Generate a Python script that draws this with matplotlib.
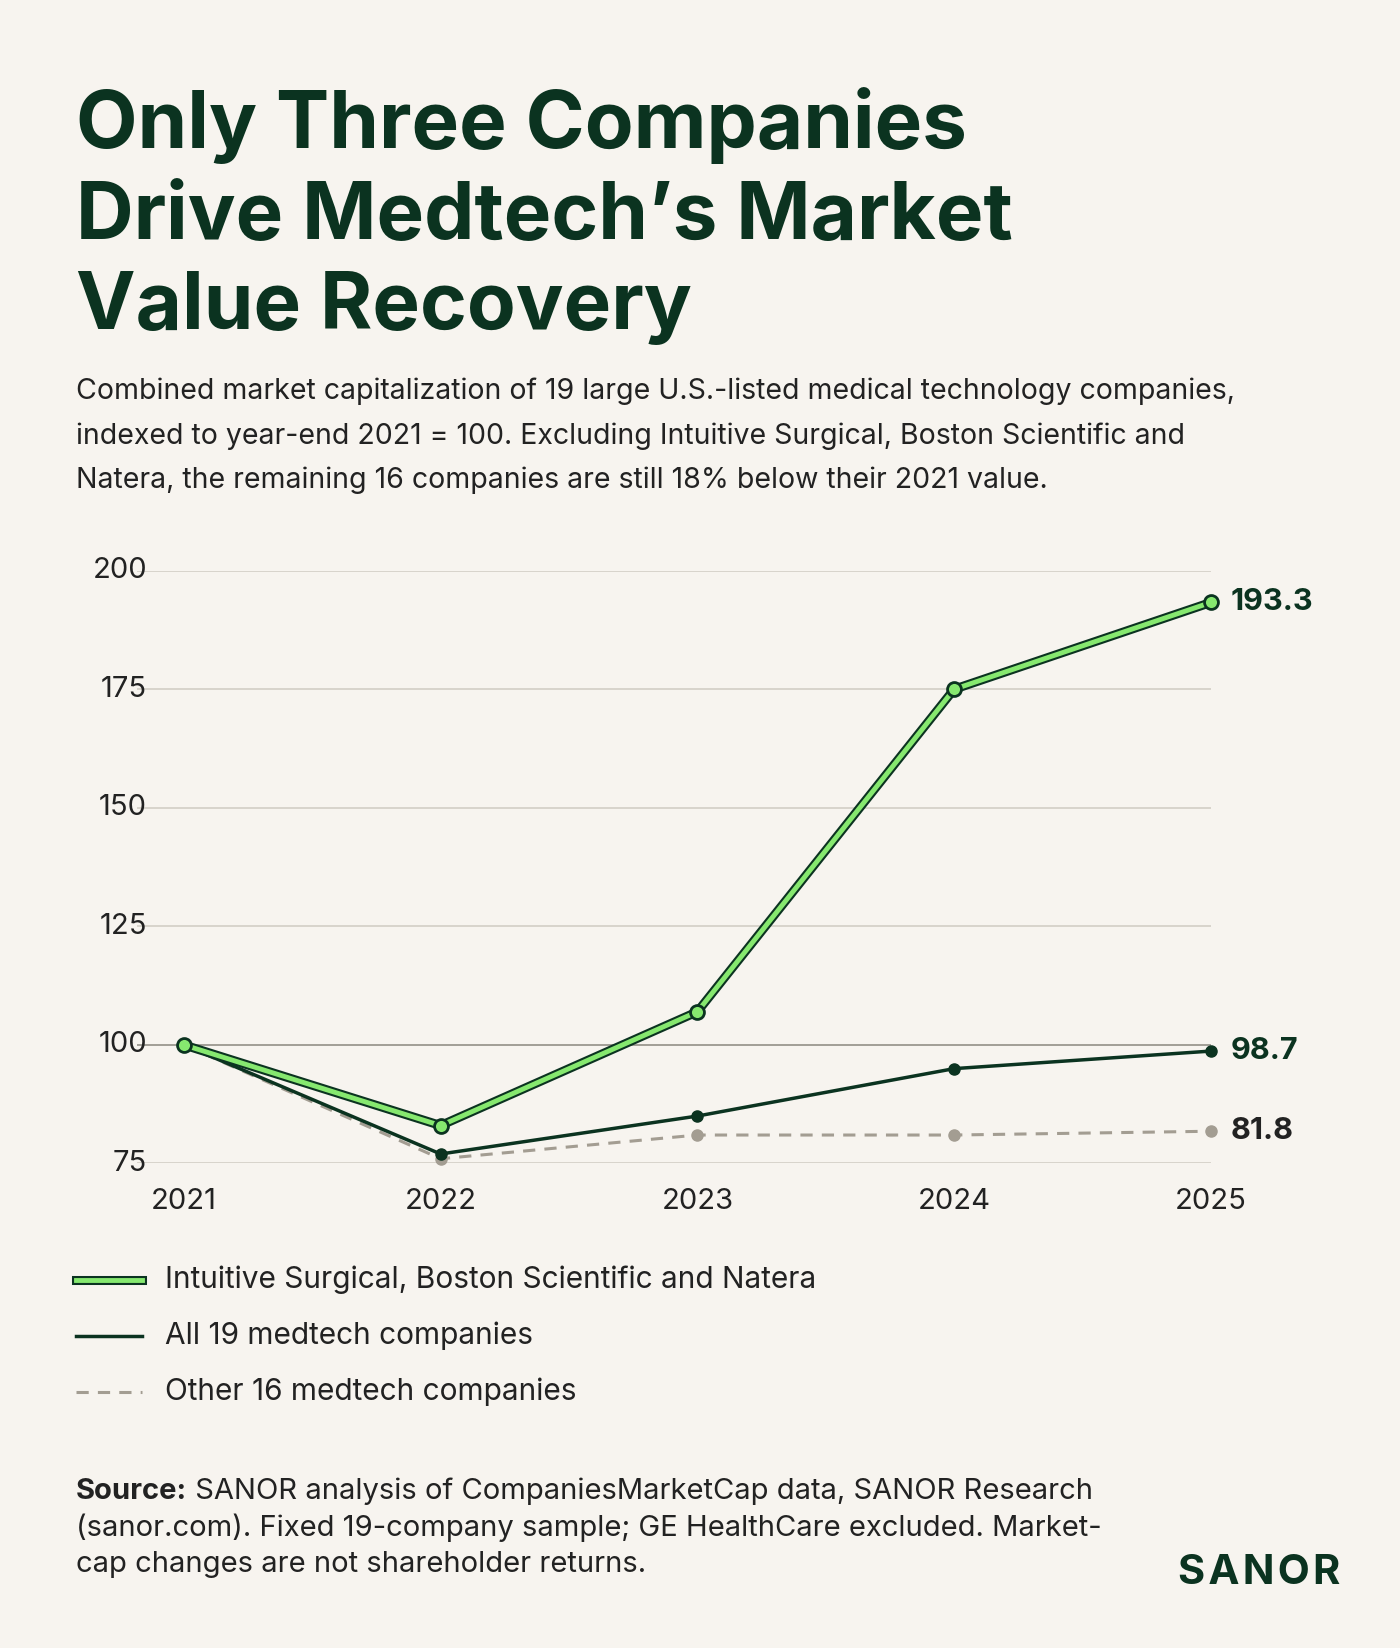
import matplotlib
matplotlib.use("Agg")
import matplotlib.pyplot as plt
from matplotlib.lines import Line2D

years = [2021, 2022, 2023, 2024, 2025]
top3 = [100, 83, 107, 175, 193.3]
all19 = [100, 77, 85, 95, 98.7]
other16 = [100, 76, 81, 81, 81.8]
yticks = [75, 100, 125, 150, 175, 200]

BG = "#F7F4EF"; DARK = "#0B3320"; GREEN = "#86E86F"; GRAY = "#A39D92"; TXT = "#222222"
plt.rcParams['font.family'] = ['Inter', 'DejaVu Sans']

W, H = 1332, 1568
fig = plt.figure(figsize=(14, 16.48), dpi=100, facecolor=BG)
fx = lambda x: x / W
fy = lambda y: 1 - y / H

for i, t in enumerate(["Only Three Companies", "Drive Medtech\u2019s Market", "Value Recovery"]):
    fig.text(fx(72), fy(141 + 86 * i), t, fontsize=57.5, fontweight='bold', color=DARK, va='baseline')
sub = ["Combined market capitalization of 19 large U.S.-listed medical technology companies,",
       "indexed to year-end 2021 = 100. Excluding Intuitive Surgical, Boston Scientific and",
       "Natera, the remaining 16 companies are still 18% below their 2021 value."]
for i, t in enumerate(sub):
    fig.text(fx(72), fy(380 + 42 * i), t, fontsize=20.5, color=TXT, va='baseline')

x0 = 2021 - 45 / 244.25
ax = fig.add_axes([fx(130), fy(1107), fx(1152) - fx(130), fy(543) - fy(1107)])
ax.set_facecolor(BG)
ax.set_xlim(x0, 2025); ax.set_ylim(75, 200)
for s in ax.spines.values(): s.set_visible(False)
ax.set_xticks([]); ax.set_yticks([])
for v in yticks:
    ax.axhline(v, color="#9A978F" if v == 100 else "#CFCBC2", lw=1.3 if v == 100 else 1.1, zorder=1)
    ax.text(x0 + 0.04, v, str(v), ha='right', va='center', fontsize=21, color=TXT)
for y in years:
    ax.text(y, 67, str(y), ha='center', va='center', fontsize=21, color=TXT, clip_on=False)

ax.plot(years, other16, color=GRAY, lw=2.2, ls=(0, (4, 3)), zorder=3, clip_on=False)
ax.plot(years, other16, 'o', color=GRAY, ms=8, zorder=3, clip_on=False)
ax.plot(years, all19, color=DARK, lw=2.5, zorder=4, clip_on=False)
ax.plot(years, all19, 'o', color=DARK, ms=8, zorder=4, clip_on=False)
ax.plot(years, top3, color=DARK, lw=6.5, zorder=5, clip_on=False, solid_capstyle='round')
ax.plot(years, top3, color=GREEN, lw=3.5, zorder=6, clip_on=False, solid_capstyle='round')
ax.plot(years, top3, 'o', mfc=GREEN, mec=DARK, mew=2, ms=10, zorder=7, clip_on=False)

for v, c in [(top3[-1], DARK), (all19[-1], DARK), (other16[-1], TXT)]:
    ax.annotate(f"{v}", (2025, v), xytext=(14, 0), textcoords='offset points', ha='left', va='center',
                fontsize=22, fontweight='bold', color=c, annotation_clip=False)

leg = [("Intuitive Surgical, Boston Scientific and Natera", 1218),
       ("All 19 medtech companies", 1271), ("Other 16 medtech companies", 1324)]
for i, (t, y) in enumerate(leg):
    xs = [fx(72), fx(135)]; ys = [fy(y), fy(y)]
    if i == 0:
        fig.add_artist(Line2D(xs, ys, color=DARK, lw=6.5))
        fig.add_artist(Line2D(xs, ys, color=GREEN, lw=3.5))
    elif i == 1:
        fig.add_artist(Line2D(xs, ys, color=DARK, lw=2.5))
    else:
        fig.add_artist(Line2D(xs, ys, color=GRAY, lw=2.2, ls=(0, (4, 3))))
    fig.text(fx(157), fy(y), t, fontsize=21.5, color=TXT, va='center')

SF = 21
st = fig.text(fx(72), fy(1426), "Source:", fontsize=SF, fontweight='bold', color=TXT, va='baseline')
ax.annotate(" SANOR analysis of CompaniesMarketCap data, SANOR Research", xy=(1, 0), xycoords=st,
            va='bottom', ha='left', fontsize=SF, color=TXT, annotation_clip=False)
fig.text(fx(72), fy(1461), "(sanor.com). Fixed 19-company sample; GE HealthCare excluded. Market-",
         fontsize=SF, color=TXT, va='baseline')
fig.text(fx(72), fy(1496), "cap changes are not shareholder returns.", fontsize=SF, color=TXT, va='baseline')
fig.text(fx(1275), fy(1507), "S A N O R".replace(" ", "\u200a"), fontsize=30, fontweight='bold',
         color=DARK, ha='right', va='baseline')

fig.savefig("out.png", facecolor=BG)
